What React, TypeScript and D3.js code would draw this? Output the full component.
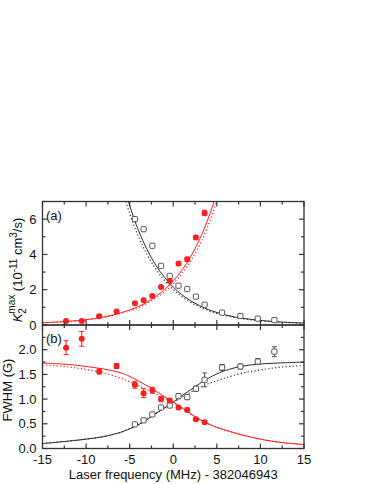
import React from 'react';
import * as d3 from 'd3';

// measured points, x = laser detuning (MHz)
const redFreq = [-12.3, -10.5, -8.5, -6.5, -4.4, -3.4, -2.4, -1.4, -0.4, 0.6, 1.6, 2.6, 3.6];
const blackFreq = [-4.4, -3.4, -2.4, -1.4, -0.4, 0.6, 1.6, 2.6, 3.6, 5.6, 7.7, 9.7, 11.6];

// panel (a): K2max
const kRed = [0.22, 0.22, 0.5, 0.76, 1.23, 1.4, 1.65, 2.16, 2.5, 3.48, 3.72, 4.96, 6.35];
const kRedErr = [0.04, 0.04, 0.05, 0.05, 0.05, 0.05, 0.06, 0.06, 0.08, 0.1, 0.12, 0.12, 0.15];
const kBlack = [6.0, 5.43, 4.49, 3.35, 2.78, 2.23, 2.04, 1.61, 1.15, 0.7, 0.51, 0.36, 0.28];
const kBlackErr = [0.12, 0.1, 0.08, 0.06, 0.06, 0.05, 0.05, 0.04, 0.04, 0.04, 0.04, 0.04, 0.04];

// panel (b): FWHM
const wRed = [2.04, 2.22, 1.56, 1.67, 1.29, 1.12, 1.18, 1.0, 0.97, 0.83, 0.78, 0.59, 0.53];
const wRedErr = [0.14, 0.15, 0.05, 0.05, 0.07, 0.09, 0.06, 0.05, 0.04, 0.03, 0.04, 0.02, 0.02];
const wBlack = [0.49, 0.57, 0.69, 0.83, 0.87, 1.06, 1.04, 1.21, 1.39, 1.64, 1.66, 1.76, 1.96];
const wBlackErr = [0.02, 0.02, 0.03, 0.03, 0.04, 0.05, 0.05, 0.05, 0.14, 0.06, 0.05, 0.06, 0.1];

// fit curves
const kBlackFitX = [-6, -5, -4, -3, -2, -1, 0, 1, 2, 3, 4, 5, 6, 7, 8, 10, 12, 15];
const kBlackSolid = [8.53, 6.77, 5.37, 4.27, 3.39, 2.7, 2.15, 1.71, 1.37, 1.1, 0.88, 0.71, 0.57, 0.46, 0.38, 0.26, 0.18, 0.11];
const kBlackDotted = [7.96, 6.32, 5.02, 3.99, 3.17, 2.52, 2.01, 1.6, 1.28, 1.03, 0.82, 0.66, 0.53, 0.43, 0.35, 0.24, 0.17, 0.1];
const kRedFitX = [-15, -13, -11, -9, -7, -5, -4, -3, -2, -1, 0, 1, 2, 3, 4, 5, 6];
const kRedSolid = [0.13, 0.18, 0.25, 0.37, 0.56, 0.85, 1.05, 1.3, 1.62, 2.01, 2.5, 3.11, 3.87, 4.83, 6.02, 7.51, 9.4];
const kRedDotted = [0.12, 0.17, 0.24, 0.35, 0.53, 0.8, 0.98, 1.22, 1.52, 1.88, 2.34, 2.91, 3.62, 4.52, 5.63, 7.03, 8.8];

const wFitX = [-15, -12, -10, -8, -6, -5, -4, -3, -2, -1, 0, 1, 2, 3, 4, 5, 6, 8, 10, 12, 15];
const wRedSolid = [1.73, 1.7, 1.66, 1.61, 1.53, 1.46, 1.37, 1.27, 1.16, 1.05, 0.94, 0.82, 0.7, 0.59, 0.5, 0.43, 0.37, 0.27, 0.19, 0.13, 0.08];
const wRedDotted = [1.69, 1.65, 1.6, 1.53, 1.42, 1.35, 1.27, 1.19, 1.1, 1.02, 0.93, 0.82, 0.7, 0.59, 0.5, 0.43, 0.37, 0.27, 0.19, 0.13, 0.08];
const wBlackSolid = [0.1, 0.15, 0.19, 0.24, 0.33, 0.4, 0.48, 0.59, 0.71, 0.82, 0.94, 1.07, 1.19, 1.31, 1.42, 1.51, 1.58, 1.67, 1.71, 1.73, 1.75];
const wBlackDotted = [0.1, 0.15, 0.19, 0.24, 0.33, 0.4, 0.48, 0.59, 0.71, 0.82, 0.93, 1.04, 1.14, 1.23, 1.31, 1.37, 1.43, 1.53, 1.59, 1.64, 1.68];

const xTicks = [-15, -10, -5, 0, 5, 10, 15];
const xMinor = d3.range(-15, 15.1, 2.5);
const kTicks = [0, 2, 4, 6];
const kMinor = d3.range(0, 7.1, 1);
const wTicks = [0, 0.5, 1.0, 1.5, 2.0];
const wMinor = d3.range(0, 2.51, 0.25);

const RED = '#ff1f1f';
const BLK = '#2a2a2a';
const AX = '#333';
const FONT = '"Liberation Sans", Arial, sans-serif';

const W = 374, H = 484;
const left = 42.5, right = 304, topA = 201.5, mid = 325, bottom = 448.5;

const x = d3.scaleLinear().domain([-15, 15]).range([left, right]);
const yA = d3.scaleLinear().domain([0, 7]).range([mid, topA]);
const yB = d3.scaleLinear().domain([0, 2.5]).range([bottom, mid]);

function fitPath(xs: number[], ys: number[], y: d3.ScaleLinear<number, number>) {
  const line = d3.line<number>()
    .x((_, i) => x(xs[i]))
    .y(d => y(d))
    .curve(d3.curveCatmullRom.alpha(0.5));
  return line(ys) || '';
}

function Frame({ y, major, minor, fmt, y0, y1 }: any) {
  const els: any[] = [];
  // x ticks, inward on top and bottom
  xMinor.forEach((v: number, i: number) => {
    const len = xTicks.includes(v) ? 5 : 3;
    els.push(<line key={'xb' + i} x1={x(v)} x2={x(v)} y1={y0} y2={y0 - len} stroke={AX} strokeWidth={1.2} />);
    els.push(<line key={'xt' + i} x1={x(v)} x2={x(v)} y1={y1} y2={y1 + len} stroke={AX} strokeWidth={1.2} />);
  });
  minor.forEach((v: number, i: number) => {
    const len = major.some((m: number) => Math.abs(m - v) < 1e-6) ? 5 : 3;
    els.push(<line key={'yl' + i} x1={left} x2={left + len} y1={y(v)} y2={y(v)} stroke={AX} strokeWidth={1.2} />);
    els.push(<line key={'yr' + i} x1={right} x2={right - len} y1={y(v)} y2={y(v)} stroke={AX} strokeWidth={1.2} />);
  });
  major.forEach((v: number, i: number) => {
    els.push(
      <text key={'yt' + i} x={left - 6} y={y(v)} dy="0.35em" textAnchor="end" fontSize={13} fontFamily={FONT} fill="#111">
        {fmt(v)}
      </text>
    );
  });
  els.push(<rect key="box" x={left} y={y1} width={right - left} height={y0 - y1} fill="none" stroke={AX} strokeWidth={1.3} />);
  return <g>{els}</g>;
}

function Points({ xs, ys, errs, y, kind }: any) {
  return (
    <g>
      {xs.map((v: number, i: number) => {
        const cx = x(v);
        const cy = y(ys[i]);
        const hi = y(ys[i] + errs[i]);
        const lo = y(ys[i] - errs[i]);
        const col = kind === 'red' ? RED : '#555';
        return (
          <g key={i}>
            <line x1={cx} x2={cx} y1={hi} y2={lo} stroke={col} strokeWidth={1} />
            <line x1={cx - 2.5} x2={cx + 2.5} y1={hi} y2={hi} stroke={col} strokeWidth={1} />
            <line x1={cx - 2.5} x2={cx + 2.5} y1={lo} y2={lo} stroke={col} strokeWidth={1} />
            {kind === 'red' ? (
              <circle cx={cx} cy={cy} r={3} fill={RED} />
            ) : (
              <rect x={cx - 2.6} y={cy - 2.6} width={5.2} height={5.2} rx={1} fill="#fff" stroke="#444" strokeWidth={0.9} />
            )}
          </g>
        );
      })}
    </g>
  );
}

export default function App() {
  const fmtA = d3.format('d');
  const fmtB = d3.format('.1f');
  return (
    <svg width={W} height={H} style={{ position: 'absolute', left: 0, top: 0, background: '#fff' }}>
      <defs>
        <clipPath id="clipA"><rect x={left} y={topA} width={right - left} height={mid - topA} /></clipPath>
        <clipPath id="clipB"><rect x={left} y={mid} width={right - left} height={bottom - mid} /></clipPath>
      </defs>

      {/* panel (a) */}
      <g clipPath="url(#clipA)">
        <path d={fitPath(kBlackFitX, kBlackDotted, yA)} fill="none" stroke={BLK} strokeWidth={1.1} strokeDasharray="1.3,2.2" />
        <path d={fitPath(kBlackFitX, kBlackSolid, yA)} fill="none" stroke={BLK} strokeWidth={1} />
        <path d={fitPath(kRedFitX, kRedDotted, yA)} fill="none" stroke={RED} strokeWidth={1.1} strokeDasharray="1.3,2.2" />
        <path d={fitPath(kRedFitX, kRedSolid, yA)} fill="none" stroke={RED} strokeWidth={1} />
        <Points xs={blackFreq} ys={kBlack} errs={kBlackErr} y={yA} kind="black" />
        <Points xs={redFreq} ys={kRed} errs={kRedErr} y={yA} kind="red" />
      </g>
      <Frame y={yA} major={kTicks} minor={kMinor} fmt={fmtA} y0={mid} y1={topA} />
      <text x={46} y={220} fontSize={13} fontFamily={FONT} fill="#111">(a)</text>

      {/* panel (b) */}
      <g clipPath="url(#clipB)">
        <path d={fitPath(wFitX, wBlackDotted, yB)} fill="none" stroke={BLK} strokeWidth={1.1} strokeDasharray="1.3,2.2" />
        <path d={fitPath(wFitX, wBlackSolid, yB)} fill="none" stroke={BLK} strokeWidth={1} />
        <path d={fitPath(wFitX, wRedDotted, yB)} fill="none" stroke={RED} strokeWidth={1.1} strokeDasharray="1.3,2.2" />
        <path d={fitPath(wFitX, wRedSolid, yB)} fill="none" stroke={RED} strokeWidth={1} />
        <Points xs={blackFreq} ys={wBlack} errs={wBlackErr} y={yB} kind="black" />
        <Points xs={redFreq} ys={wRed} errs={wRedErr} y={yB} kind="red" />
      </g>
      <Frame y={yB} major={wTicks} minor={wMinor} fmt={fmtB} y0={bottom} y1={mid} />
      <text x={46} y={343} fontSize={13} fontFamily={FONT} fill="#111">(b)</text>

      {/* x tick labels */}
      {xTicks.map(v => (
        <text key={v} x={x(v)} y={464} textAnchor="middle" fontSize={13} fontFamily={FONT} fill="#111">{v}</text>
      ))}
      <text x={x(0)} y={479} textAnchor="middle" fontSize={13} fontFamily={FONT} fill="#111">
        Laser frequency (MHz) - 382046943
      </text>

      {/* y labels */}
      <text transform="translate(22,270) rotate(-90)" textAnchor="middle" fontSize={13} fontFamily={FONT} fill="#111">
        <tspan fontStyle="italic">K</tspan>
        <tspan fontSize={10} dy={4}>2</tspan>
        <tspan fontSize={10} dx={-5.6} dy={-11}>max</tspan>
        <tspan dy={7}> (10</tspan>
        <tspan fontSize={10} dy={-5}>-11</tspan>
        <tspan dy={5}> cm</tspan>
        <tspan fontSize={10} dy={-5}>3</tspan>
        <tspan dy={5}>/s)</tspan>
      </text>
      <text transform="translate(12,390) rotate(-90)" textAnchor="middle" fontSize={13} fontFamily={FONT} fill="#111">
        FWHM (G)
      </text>
    </svg>
  );
}
